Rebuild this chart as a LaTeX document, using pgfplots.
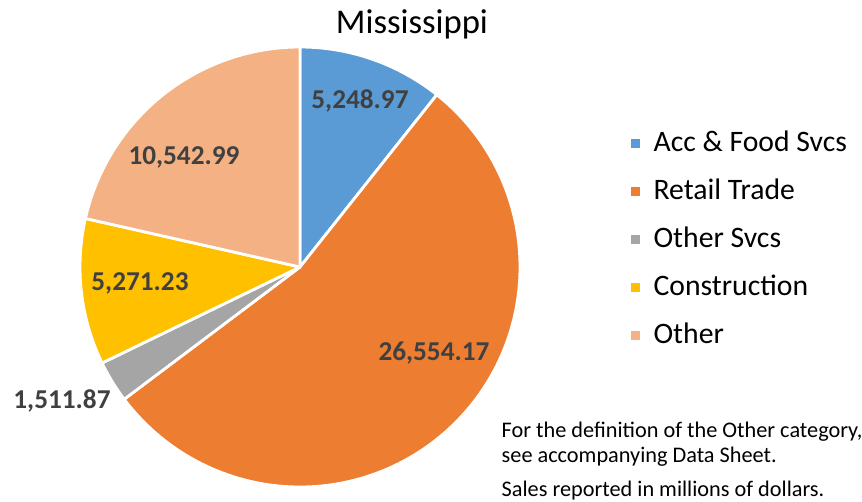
\documentclass[border=0pt]{standalone}
\usepackage{pgfplots}
\usepackage{pgfplotstable}
\pgfplotsset{compat=1.18}
\usepackage{fontspec}
\setmainfont{Carlito}
\definecolor{cA}{HTML}{5B9BD5}
\definecolor{cB}{HTML}{ED7D31}
\definecolor{cC}{HTML}{A5A5A5}
\definecolor{cD}{HTML}{FFC000}
\definecolor{cE}{HTML}{F4B183}
\definecolor{lbl}{HTML}{404040}
\pgfplotstableread{
name value
AccFood 5248.97
Retail 26554.17
OtherSvcs 1511.87
Construction 5271.23
Other 10542.99
}\datatable
\pgfplotstablegetelem{0}{value}\of\datatable \let\va\pgfplotsretval
\pgfplotstablegetelem{1}{value}\of\datatable \let\vb\pgfplotsretval
\pgfplotstablegetelem{2}{value}\of\datatable \let\vc\pgfplotsretval
\pgfplotstablegetelem{3}{value}\of\datatable \let\vd\pgfplotsretval
\pgfplotstablegetelem{4}{value}\of\datatable \let\ve\pgfplotsretval
\pgfkeys{/pgf/fpu=true,/pgf/fpu/output format=fixed}
\pgfmathsetmacro{\tot}{\va+\vb+\vc+\vd+\ve}
\pgfmathsetmacro{\aA}{90}
\pgfmathsetmacro{\aB}{\aA-360*\va/\tot}
\pgfmathsetmacro{\aC}{\aB-360*\vb/\tot}
\pgfmathsetmacro{\aD}{\aC-360*\vc/\tot}
\pgfmathsetmacro{\aE}{\aD-360*\vd/\tot}
\pgfmathsetmacro{\aF}{-270}
\pgfkeys{/pgf/fpu=false}
\def\cx{300}
\def\cy{234}
\def\R{220}
\begin{document}
\begin{tikzpicture}
\begin{axis}[
  width=8.62cm, height=5.01cm, scale only axis,
  xmin=0, xmax=862, ymin=0, ymax=501,
  axis lines=none, clip=false,
  legend style={at={(axis cs:617,385)}, anchor=north west, draw=none, fill=none,
    font=\fontsize{8.45}{10}\selectfont, row sep=2.3pt,
    /tikz/every odd column/.append style={column sep=1.1pt}},
  legend cell align=left,
  legend image code/.code={\fill[#1] (0pt,-1.65pt) rectangle (3.3pt,1.65pt);},
]
\addplot[fill=cA, draw=white, line width=0.8pt, line join=round, domain=\aB:\aA, samples=60, variable=\t]
  ({\cx+\R*cos(\t)},{\cy+\R*sin(\t)}) -- (\cx,\cy) -- cycle;
\addlegendentry{Acc \& Food Svcs}
\addplot[fill=cB, draw=white, line width=0.8pt, line join=round, domain=\aC:\aB, samples=150, variable=\t]
  ({\cx+\R*cos(\t)},{\cy+\R*sin(\t)}) -- (\cx,\cy) -- cycle;
\addlegendentry{Retail Trade}
\addplot[fill=cC, draw=white, line width=0.8pt, line join=round, domain=\aD:\aC, samples=20, variable=\t]
  ({\cx+\R*cos(\t)},{\cy+\R*sin(\t)}) -- (\cx,\cy) -- cycle;
\addlegendentry{Other Svcs}
\addplot[fill=cD, draw=white, line width=0.8pt, line join=round, domain=\aE:\aD, samples=40, variable=\t]
  ({\cx+\R*cos(\t)},{\cy+\R*sin(\t)}) -- (\cx,\cy) -- cycle;
\addlegendentry{Construction}
\addplot[fill=cE, draw=white, line width=0.8pt, line join=round, domain=\aF:\aE, samples=80, variable=\t]
  ({\cx+\R*cos(\t)},{\cy+\R*sin(\t)}) -- (\cx,\cy) -- cycle;
\addlegendentry{Other}
\node[anchor=base, font=\fontsize{9.86}{12}\selectfont] at (axis cs:412,468) {Mississippi};
\begin{scope}[every node/.style={font=\bfseries\fontsize{7.75}{9}\selectfont, text=lbl}]
\node at (axis cs:360,400) {5,248.97};
\node at (axis cs:434,148) {26,554.17};
\node at (axis cs:62,100) {1,511.87};
\node at (axis cs:140,218) {5,271.23};
\node at (axis cs:184,344) {10,542.99};
\end{scope}
\begin{scope}[every node/.style={font=\fontsize{6.34}{8}\selectfont, anchor=base west, inner sep=0pt}]
\node at (axis cs:501,64) {For the definition of the Other category,};
\node at (axis cs:501,39) {see accompanying Data Sheet.};
\node at (axis cs:501,5) {Sales reported in millions of dollars.};
\end{scope}
\end{axis}
\pgfresetboundingbox
\path (current axis.south west) rectangle (current axis.north east);
\end{tikzpicture}
\end{document}
